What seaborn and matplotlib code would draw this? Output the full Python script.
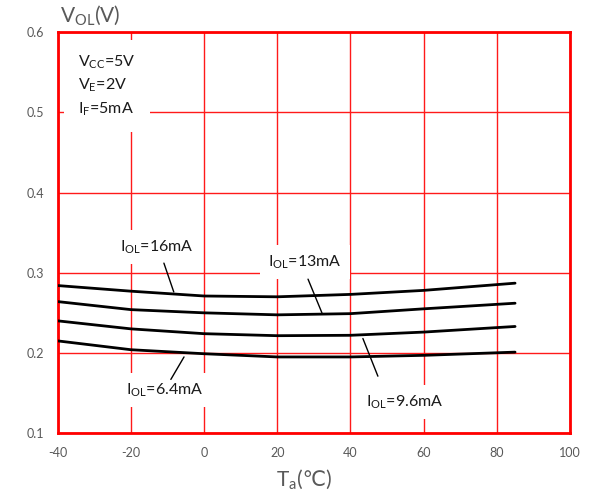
import pandas as pd
import numpy as np
import matplotlib.pyplot as plt
import seaborn as sns
from matplotlib.offsetbox import TextArea, HPacker, AnchoredOffsetbox

# values
temps = [-40, -20, 0, 20, 40, 60, 85]
vol_16ma = [0.284, 0.277, 0.271, 0.270, 0.273, 0.278, 0.287]
vol_13ma = [0.264, 0.254, 0.250, 0.2475, 0.249, 0.255, 0.262]
vol_9_6ma = [0.240, 0.230, 0.224, 0.2215, 0.222, 0.226, 0.233]
vol_6_4ma = [0.215, 0.204, 0.199, 0.195, 0.195, 0.197, 0.201]
series_names = ['16mA', '13mA', '9.6mA', '6.4mA']
x_ticks = [-40, -20, 0, 20, 40, 60, 80, 100]
y_ticks = [0.1, 0.2, 0.3, 0.4, 0.5, 0.6]

df = pd.DataFrame({
    'Ta': temps * 4,
    'VOL': vol_16ma + vol_13ma + vol_9_6ma + vol_6_4ma,
    'IOL': np.repeat(series_names, len(temps)),
})

sns.set_style('white')
plt.rcParams['font.family'] = ['Lato', 'DejaVu Sans']
plt.rcParams['mathtext.fontset'] = 'custom'
plt.rcParams['mathtext.rm'] = 'Lato'
plt.rcParams['mathtext.it'] = 'Lato'
plt.rcParams['axes.unicode_minus'] = False

fig, ax = plt.subplots(figsize=(5.9, 4.95), dpi=100)
fig.subplots_adjust(left=0.098, right=0.966, bottom=0.125, top=0.935)

sns.lineplot(data=df, x='Ta', y='VOL', units='IOL', estimator=None,
             color='black', linewidth=2, ax=ax, zorder=3)

ax.set_xlim(-40, 100)
ax.set_ylim(0.1, 0.6)
ax.set_xticks(x_ticks)
ax.set_yticks(y_ticks)
ax.set_yticklabels([f'{v:.1f}' for v in y_ticks])
ax.tick_params(length=0, labelsize=9, labelcolor='#595959', pad=10)
ax.grid(True, color='#ff1a1a', linewidth=1)
ax.set_axisbelow(True)
for s in ax.spines.values():
    s.set_color('#ff0000')
    s.set_linewidth(2)

# x label: mathtext part + plain text part (so the ℃ glyph can fall back to DejaVu)
ax.set_xlabel('')
ax.set_ylabel('')
lab_props = dict(fontsize=15, color='#595959')
xlab = HPacker(children=[TextArea(r'T$_{\mathrm{a}}$', textprops=lab_props),
                         TextArea('(\u2103)', textprops=lab_props)],
               sep=0, pad=0, align='baseline')
ax.add_artist(AnchoredOffsetbox(loc='upper center', child=xlab, frameon=False, pad=0, borderpad=0,
                                bbox_to_anchor=(0.48, -0.09), bbox_transform=ax.transAxes))

fig.text(0.102, 0.945, r'V$_{\mathrm{OL}}$(V)', fontsize=15, color='#595959',
         ha='left', va='bottom')

# conditions
ax.text(-34.5, 0.573, r'V$_{\mathrm{CC}}$=5V' + '\n' + r'V$_{\mathrm{E}}$=2V' + '\n' + r'I$_{\mathrm{F}}$=5mA',
        fontsize=11.5, va='top', ha='left', linespacing=1.45, color='#1a1a1a',
        bbox=dict(facecolor='white', edgecolor='none', pad=10), zorder=4)

# curve labels with leader lines
labels = [
    (r'I$_{\mathrm{OL}}$=16mA', (-12.9, 0.332), (-11.0, 0.312), (-8.3, 0.276)),
    (r'I$_{\mathrm{OL}}$=13mA', (27.5, 0.313), (28.4, 0.292), (32.2, 0.250)),
    (r'I$_{\mathrm{OL}}$=6.4mA', (-10.7, 0.154), (-5.5, 0.195), (-9.1, 0.167)),
    (r'I$_{\mathrm{OL}}$=9.6mA', (54.9, 0.139), (43.4, 0.218), (47.5, 0.171)),
]
for txt, pos, p1, p2 in labels:
    ax.text(pos[0], pos[1], txt, fontsize=11.5, ha='center', va='center', color='#1a1a1a',
            bbox=dict(facecolor='white', edgecolor='none', pad=6), zorder=4)
    ax.plot([p1[0], p2[0]], [p1[1], p2[1]], color='black', linewidth=1, zorder=5)

plt.savefig('out.png', dpi=100)
